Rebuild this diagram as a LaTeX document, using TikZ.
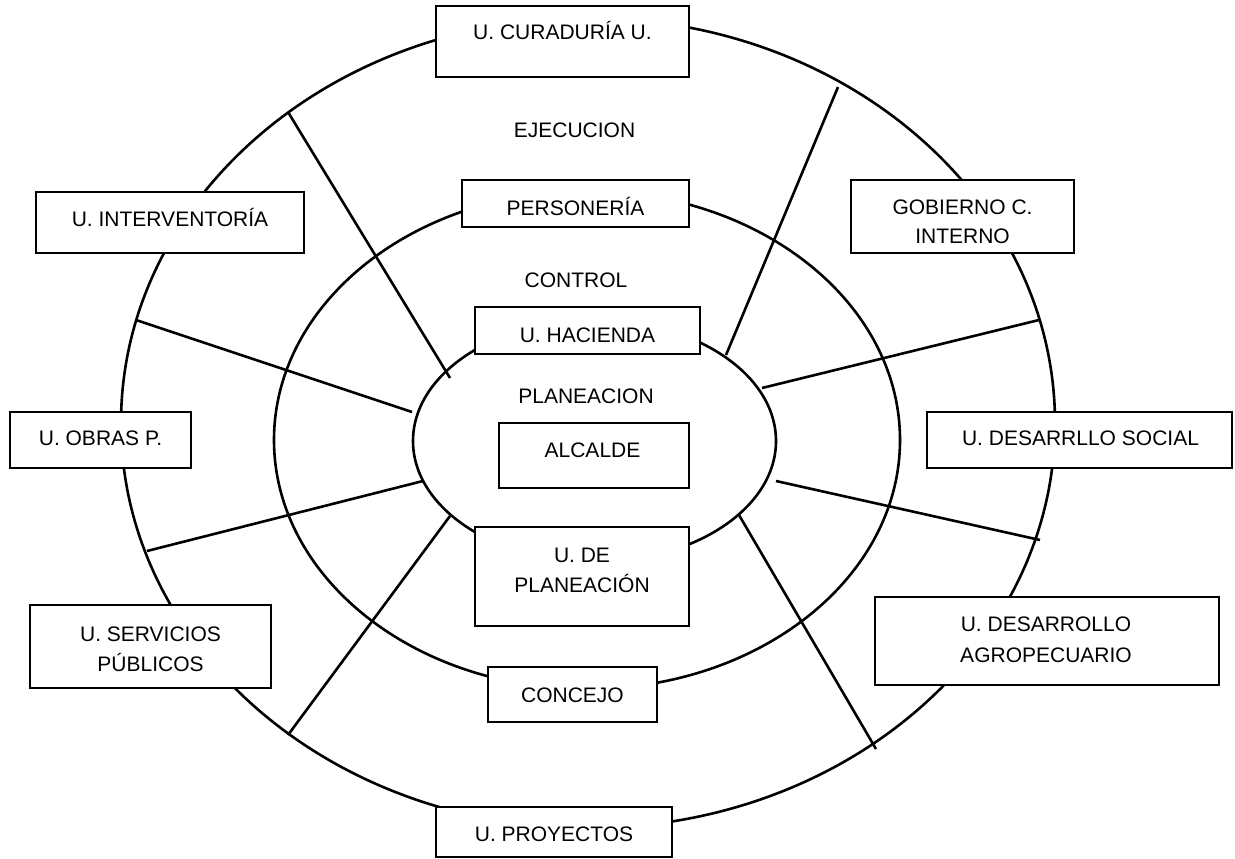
\documentclass[tikz,border=0pt]{standalone}
\usepackage{fontspec}
\setmainfont{Liberation Sans}
\begin{document}
\begin{tikzpicture}[x=1pt,y=-1pt,
  ring/.style={line width=2.6pt},
  spoke/.style={line width=2.6pt},
  unitbox/.style={draw, line width=2.6pt, fill=white, inner sep=0pt},
  lbl/.style={font=\fontsize{21}{29}\selectfont, inner sep=0pt, anchor=base}]
\useasboundingbox (0,0) rectangle (1235,859);

% rings
\draw[ring] (588,423) ellipse [x radius=467pt, y radius=405pt];
\draw[ring] (587,440) ellipse [x radius=313pt, y radius=249pt];
\draw[ring] (594.5,441) ellipse [x radius=181.5pt, y radius=121pt];

% spokes
\coordinate (s1a) at (288,112);  \coordinate (s1b) at (450,378);
\coordinate (s2a) at (136,320);  \coordinate (s2b) at (412,412);
\coordinate (s3a) at (838,87);   \coordinate (s3b) at (726,355);
\coordinate (s4a) at (1039,320); \coordinate (s4b) at (762,388);
\coordinate (s5a) at (147,551);  \coordinate (s5b) at (423,481);
\coordinate (s6a) at (288,735);  \coordinate (s6b) at (450,516);
\coordinate (s7a) at (1040,540); \coordinate (s7b) at (776,481);
\coordinate (s8a) at (876,749);  \coordinate (s8b) at (739,515);
\foreach \i in {1,...,8} \draw[spoke] (s\i a) -- (s\i b);

% boxes
\node[unitbox, minimum width=253pt, minimum height=71pt] (cur) at (562.5,41.5) {};
\node[unitbox, minimum width=227pt, minimum height=47pt] (per) at (575.5,203.5) {};
\node[unitbox, minimum width=225pt, minimum height=47pt] (hac) at (587.5,330.5) {};
\node[unitbox, minimum width=190pt, minimum height=65pt] (alc) at (594,455.5) {};
\node[unitbox, minimum width=214pt, minimum height=99pt] (pla) at (582,576.5) {};
\node[unitbox, minimum width=169pt, minimum height=55pt] (con) at (572.5,694.5) {};
\node[unitbox, minimum width=236pt, minimum height=50pt] (pro) at (554,832) {};
\node[unitbox, minimum width=268pt, minimum height=61pt] (int) at (170,222.5) {};
\node[unitbox, minimum width=223pt, minimum height=73pt] (gob) at (962.5,216.5) {};
\node[unitbox, minimum width=305pt, minimum height=56pt] (soc) at (1079.5,440) {};
\node[unitbox, minimum width=181pt, minimum height=56pt] (obr) at (100.5,440) {};
\node[unitbox, minimum width=241pt, minimum height=83pt] (ser) at (150.5,646.5) {};
\node[unitbox, minimum width=344pt, minimum height=88pt] (agr) at (1047,641) {};

% texts
\node[lbl] (tcur) at (562.5,40) {U. CURADURÍA U.};
\node[lbl] (teje) at (574.5,137) {EJECUCION};
\node[lbl] (tper) at (575.5,215) {PERSONERÍA};
\node[lbl] (tctl) at (576,287) {CONTROL};
\node[lbl] (thac) at (587.5,342) {U. HACIENDA};
\node[lbl] (tpln) at (586,403) {PLANEACION};
\node[lbl] (talc) at (592.5,457) {ALCALDE};
\node[lbl] (tpla1) at (582,562) {U. DE};
\node[lbl] (tpla2) at (582,592) {PLANEACIÓN};
\node[lbl] (tcon) at (572.5,702) {CONCEJO};
\node[lbl] (tpro) at (554,841) {U. PROYECTOS};
\node[lbl] (tint) at (170,226) {U. INTERVENTORÍA};
\node[lbl] (tgob1) at (962.5,214) {GOBIERNO C.};
\node[lbl] (tgob2) at (962.5,243) {INTERNO};
\node[lbl] (tsoc) at (1080.5,445) {U. DESARRLLO SOCIAL};
\node[lbl] (tobr) at (100.5,445) {U. OBRAS P.};
\node[lbl] (tser1) at (150.5,641) {U. SERVICIOS};
\node[lbl] (tser2) at (150.5,671) {PÚBLICOS};
\node[lbl] (tagr1) at (1046,631) {U. DESARROLLO};
\node[lbl] (tagr2) at (1046,662) {AGROPECUARIO};
\end{tikzpicture}
\end{document}
